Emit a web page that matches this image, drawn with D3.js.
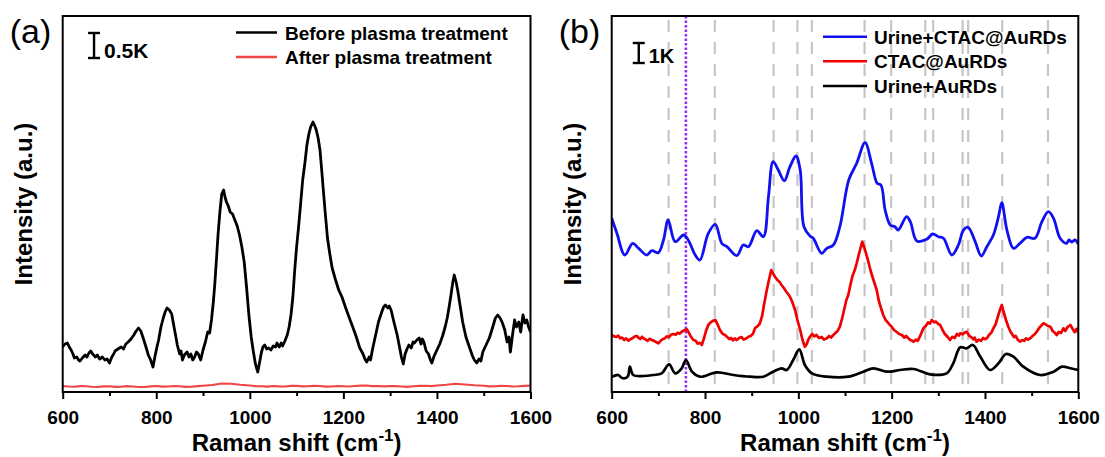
<!DOCTYPE html>
<html>
<head>
<meta charset="utf-8">
<script src="https://cdn.jsdelivr.net/npm/d3@7"></script>
<style>
  body { margin: 0; background: #fff; }
  svg text { font-family: "Liberation Sans", Arial, sans-serif; }
</style>
</head>
<body>
<div id="chart"></div>
<script>
// Panel (a): intensity (counts) vs Raman shift (cm-1)
const beforePlasma = [
  [600, 900], [605, 960], [610, 980], [614, 900], [618, 840], [622, 760], [625, 680], [630, 700],
  [634, 640], [637, 620], [642, 680], [648, 740], [652, 700], [656, 780], [660, 820], [664, 760],
  [670, 700], [674, 740], [679, 660], [685, 700], [690, 640], [695, 660], [700, 580], [705, 700],
  [709, 760], [712, 820], [718, 860], [725, 900], [730, 860], [735, 960], [740, 1000], [746, 1060],
  [752, 1140], [757, 1220], [762, 1280], [767, 1220], [772, 1080], [778, 900], [783, 740],
  [788, 640], [793, 500], [797, 700], [801, 880], [805, 1040], [810, 1300], [815, 1480],
  [819, 1600], [823, 1680], [828, 1640], [833, 1560], [838, 1300], [842, 1100], [845, 940],
  [850, 760], [853, 820], [856, 640], [860, 740], [866, 800], [870, 700], [874, 760], [878, 640],
  [882, 700], [886, 800], [890, 760], [895, 640], [900, 840], [905, 1000], [910, 1200],
  [914, 1180], [918, 1440], [922, 1800], [925, 2140], [929, 2700], [932, 3140], [936, 3600],
  [940, 3960], [944, 4040], [947, 3900], [950, 3800], [954, 3720], [958, 3600], [963, 3560],
  [968, 3440], [973, 3320], [978, 3140], [983, 2900], [988, 2600], [993, 2100], [998, 1540],
  [1003, 1100], [1007, 840], [1012, 560], [1017, 400], [1021, 600], [1025, 800], [1028, 900],
  [1032, 940], [1036, 860], [1040, 880], [1045, 840], [1050, 920], [1055, 900], [1058, 980],
  [1063, 900], [1067, 980], [1070, 920], [1075, 1020], [1080, 1140], [1084, 1300], [1088, 1540],
  [1092, 1900], [1096, 2440], [1100, 2900], [1104, 3280], [1108, 3700], [1113, 4240],
  [1118, 4600], [1122, 4940], [1126, 5150], [1130, 5300], [1135, 5400], [1139, 5320],
  [1142, 5240], [1146, 5080], [1150, 4840], [1154, 4400], [1158, 3940], [1162, 3500],
  [1166, 3080], [1171, 2760], [1176, 2480], [1183, 2250], [1190, 2040], [1197, 1900],
  [1205, 1680], [1212, 1500], [1220, 1300], [1227, 1120], [1235, 880], [1242, 760], [1246, 660],
  [1250, 600], [1255, 700], [1258, 640], [1262, 840], [1268, 1100], [1275, 1400], [1282, 1600],
  [1286, 1700], [1290, 1740], [1295, 1680], [1298, 1720], [1302, 1640], [1308, 1400],
  [1315, 1140], [1320, 900], [1324, 700], [1328, 560], [1332, 760], [1336, 860], [1340, 940],
  [1345, 880], [1349, 1000], [1352, 980], [1357, 1040], [1362, 1080], [1366, 960], [1369, 1060],
  [1372, 1000], [1377, 820], [1382, 760], [1386, 640], [1389, 580], [1394, 720], [1400, 840],
  [1406, 960], [1412, 1120], [1417, 1280], [1422, 1480], [1426, 1700], [1430, 1940],
  [1434, 2200], [1437, 2340], [1441, 2200], [1445, 2000], [1450, 1700], [1455, 1400],
  [1462, 1100], [1470, 880], [1476, 720], [1480, 640], [1485, 580], [1490, 660], [1494, 620],
  [1498, 800], [1505, 940], [1512, 1080], [1518, 1260], [1525, 1480], [1530, 1540], [1535, 1480],
  [1540, 1380], [1545, 1240], [1550, 1000], [1554, 1100], [1557, 800], [1561, 1100], [1566, 1440],
  [1570, 1300], [1575, 1400], [1579, 1200], [1584, 1540], [1588, 1380], [1592, 1440],
  [1596, 1300], [1600, 1200]
]
const afterPlasma = [
  [600, 120], [612, 110], [625, 105], [637, 118], [650, 115], [662, 105], [675, 100], [688, 112],
  [700, 115], [712, 102], [725, 105], [737, 118], [750, 110], [762, 100], [775, 100], [788, 114],
  [800, 120], [812, 106], [825, 110], [837, 120], [850, 115], [862, 102], [875, 105], [888, 118],
  [900, 125], [920, 140], [940, 170], [960, 165], [980, 145], [1000, 130], [1012, 118],
  [1025, 115], [1037, 108], [1050, 120], [1062, 112], [1075, 110], [1088, 122], [1100, 125],
  [1112, 112], [1125, 115], [1137, 124], [1150, 120], [1162, 108], [1175, 110], [1188, 120],
  [1200, 115], [1212, 110], [1225, 120], [1237, 128], [1250, 130], [1262, 118], [1275, 120],
  [1288, 112], [1300, 120], [1312, 116], [1325, 110], [1337, 104], [1350, 115], [1362, 122],
  [1375, 125], [1388, 118], [1400, 130], [1420, 145], [1440, 165], [1460, 150], [1480, 135],
  [1500, 125], [1512, 112], [1525, 115], [1537, 124], [1550, 120], [1562, 110], [1575, 115],
  [1588, 124], [1600, 130]
]

// Panel (b)
const urineCtac = [
  [600, 8685], [611, 7950], [628, 6850], [645, 7435], [657, 7200], [675, 6850], [686, 7065],
  [700, 6965], [711, 7600], [721, 8600], [736, 7515], [754, 7850], [764, 7600], [779, 6850],
  [789, 6600], [807, 7935], [822, 8385], [836, 7435], [847, 7265], [868, 6815], [882, 7350],
  [893, 7265], [911, 8065], [925, 7765], [936, 9765], [946, 11515], [957, 11100], [970, 10565],
  [982, 11265], [995, 11800], [1004, 11100], [1012, 8265], [1025, 7800], [1032, 7685],
  [1050, 6935], [1061, 7185], [1075, 7350], [1089, 8265], [1108, 10600], [1125, 11435],
  [1143, 12465], [1157, 11435], [1169, 10435], [1177, 10350], [1186, 9100], [1197, 8350],
  [1207, 8265], [1214, 8100], [1232, 8765], [1240, 8515], [1254, 7550], [1275, 7635],
  [1288, 7900], [1300, 7765], [1311, 7685], [1329, 6850], [1343, 7350], [1354, 8100],
  [1364, 8235], [1379, 7515], [1392, 6800], [1404, 7265], [1418, 7850], [1429, 8765],
  [1436, 9465], [1447, 8100], [1461, 7185], [1475, 7435], [1490, 7735], [1507, 7685],
  [1522, 8515], [1536, 9015], [1547, 8685], [1561, 7685], [1575, 7435], [1580, 7600],
  [1586, 7500], [1593, 7600], [1600, 7400]
]
const ctac = [
  [600, 2850], [605, 2780], [610, 2750], [614, 2820], [618, 2685], [622, 2720], [627, 2600],
  [631, 2680], [636, 2565], [640, 2640], [645, 2700], [650, 2780], [654, 2800], [658, 2700],
  [661, 2650], [665, 2760], [668, 2685], [673, 2620], [677, 2560], [681, 2660], [686, 2600],
  [690, 2560], [695, 2500], [700, 2435], [705, 2560], [709, 2640], [714, 2685], [718, 2780],
  [723, 2740], [727, 2860], [732, 2900], [737, 2860], [741, 2960], [746, 2920], [750, 3015],
  [755, 3080], [761, 3135], [765, 2980], [770, 2760], [775, 2600], [780, 2560], [784, 2420],
  [789, 2460], [793, 2350], [798, 2700], [802, 3050], [807, 3350], [812, 3480], [817, 3560],
  [822, 3600], [827, 3380], [832, 3100], [837, 2920], [842, 2860], [847, 2765], [852, 2640],
  [856, 2700], [860, 2580], [864, 2680], [868, 2600], [873, 2700], [878, 2750], [883, 2620],
  [889, 2685], [893, 2760], [898, 2800], [903, 2920], [907, 3185], [912, 3280], [917, 3400],
  [922, 3765], [926, 4300], [931, 4935], [936, 5500], [942, 6100], [946, 5920], [950, 5765],
  [955, 5600], [959, 5520], [964, 5350], [969, 5200], [973, 5050], [978, 4900], [982, 4765],
  [987, 4500], [993, 4100], [998, 3600], [1004, 3100], [1009, 2600], [1014, 2265], [1018, 2400],
  [1021, 2600], [1025, 2765], [1030, 2900], [1034, 2780], [1039, 2850], [1044, 2700],
  [1050, 2750], [1055, 2620], [1061, 2685], [1066, 2800], [1070, 2720], [1075, 2850],
  [1079, 2935], [1084, 3050], [1089, 3265], [1094, 3700], [1099, 4200], [1103, 4600],
  [1107, 4850], [1112, 5400], [1116, 5800], [1121, 6100], [1125, 6435], [1131, 7000],
  [1137, 7515], [1143, 7100], [1150, 6515], [1155, 6050], [1161, 5600], [1168, 5100],
  [1172, 4600], [1177, 4200], [1182, 3850], [1187, 3600], [1191, 3500], [1195, 3380],
  [1200, 3265], [1205, 3100], [1211, 3000], [1216, 2900], [1222, 2850], [1227, 2720],
  [1231, 2800], [1235, 2700], [1240, 2600], [1244, 2560], [1247, 2515], [1252, 2620],
  [1256, 2560], [1261, 2800], [1268, 3185], [1273, 3300], [1278, 3480], [1282, 3420],
  [1286, 3600], [1291, 3480], [1295, 3520], [1300, 3400], [1304, 3350], [1309, 3100],
  [1314, 2900], [1320, 2750], [1325, 2600], [1330, 2760], [1335, 2700], [1340, 2900],
  [1344, 2820], [1347, 2935], [1352, 2880], [1356, 2960], [1361, 3015], [1366, 2820],
  [1370, 2750], [1375, 2640], [1378, 2720], [1382, 2515], [1387, 2620], [1392, 2560],
  [1396, 2700], [1400, 2640], [1404, 2685], [1409, 2860], [1414, 2980], [1418, 3185],
  [1423, 3400], [1428, 3800], [1432, 4100], [1436, 4350], [1440, 4000], [1445, 3600],
  [1450, 3265], [1455, 3000], [1458, 2900], [1462, 2750], [1466, 2800], [1470, 2620],
  [1475, 2515], [1480, 2600], [1484, 2560], [1488, 2680], [1492, 2620], [1497, 2685],
  [1502, 2800], [1507, 2900], [1511, 3015], [1516, 3200], [1520, 3300], [1525, 3435],
  [1530, 3380], [1535, 3300], [1540, 3265], [1545, 3050], [1550, 2950], [1554, 2850],
  [1558, 3000], [1563, 2950], [1568, 3185], [1572, 3050], [1577, 3250], [1583, 3350],
  [1588, 3150], [1592, 3000], [1596, 3150], [1600, 2935]
]
const urineAu = [
  [600, 765], [607, 820], [614, 850], [621, 720], [628, 685], [635, 800], [639, 1265],
  [646, 850], [668, 800], [689, 850], [707, 935], [723, 1385], [736, 935], [750, 1185],
  [759, 1600], [772, 1015], [789, 765], [825, 985], [861, 850], [896, 765], [925, 765],
  [946, 1015], [964, 1185], [975, 1100], [989, 1600], [1002, 2135], [1014, 1350],
  [1029, 935], [1061, 765], [1107, 765], [1139, 1015], [1161, 1185], [1190, 1015],
  [1218, 1100], [1247, 1150], [1282, 885], [1318, 935], [1332, 1435], [1347, 2235],
  [1361, 2185], [1374, 2350], [1390, 1765], [1411, 1100], [1429, 1435], [1445, 1900],
  [1461, 1765], [1482, 1265], [1518, 850], [1547, 1015], [1565, 1265], [1583, 1185],
  [1600, 1100]
]

const bandLines = [722, 821, 947, 998, 1029, 1142, 1199, 1272, 1289, 1352, 1364, 1437, 1535]
const markerLine = 759

const xTicks = [600, 800, 1000, 1200, 1400, 1600]
const xMinorTicks = [700, 900, 1100, 1300, 1500]

const width = 1105
const height = 457
const plotTop = 16
const plotBottom = 392

const svg = d3
  .select('#chart')
  .append('svg')
  .attr('width', width)
  .attr('height', height)

function makePanel(opts) {
  const g = svg.append('g')

  const x = d3.scaleLinear().domain([600, 1600]).range([opts.left, opts.right])
  const y = d3.scaleLinear().domain([0, opts.yMax]).range([plotBottom, plotTop])

  const clip = g.append('clipPath').attr('id', 'clip-' + opts.id)
  clip.append('rect')
    .attr('x', opts.left).attr('y', plotTop)
    .attr('width', opts.right - opts.left).attr('height', plotBottom - plotTop)

  const plot = g.append('g').attr('clip-path', 'url(#clip-' + opts.id + ')')

  // major / minor ticks
  const major = d3.axisBottom(x).tickValues(xTicks).tickSize(7).tickPadding(12)
    .tickFormat(d3.format('d'))
  const minor = d3.axisBottom(x).tickValues(xMinorTicks).tickSize(4).tickFormat('')

  g.append('g').attr('transform', 'translate(0,' + plotBottom + ')').call(minor)
    .call(a => a.select('.domain').remove())
    .selectAll('line').attr('stroke-width', 2)
  const ax = g.append('g').attr('transform', 'translate(0,' + plotBottom + ')').call(major)
  ax.select('.domain').remove()
  ax.selectAll('line').attr('stroke-width', 2)
  ax.selectAll('text')
    .attr('font-size', 19)
    .attr('font-weight', 'bold')
    .attr('fill', '#000')
    .attr('font-family', '"Liberation Sans", Arial, sans-serif')

  // axis titles
  const xt = g.append('text')
    .attr('x', (opts.left + opts.right) / 2)
    .attr('y', 451)
    .attr('text-anchor', 'middle')
    .attr('font-size', 24)
    .attr('font-weight', 'bold')
  xt.append('tspan').text('Raman shift (cm')
  xt.append('tspan').attr('dy', -10).attr('font-size', 17).text('-1')
  xt.append('tspan').attr('dy', 10).text(')')

  g.append('text')
    .attr('transform', 'translate(' + (opts.left - 31) + ',' + (plotTop + plotBottom) / 2 + ') rotate(-90)')
    .attr('text-anchor', 'middle')
    .attr('font-size', 24)
    .attr('font-weight', 'bold')
    .text('Intensity (a.u.)')

  // panel label
  g.append('text')
    .attr('x', opts.left - 53)
    .attr('y', 43)
    .attr('font-size', 34)
    .text(opts.label)

  // scale bar
  const sb = g.append('g').attr('stroke', '#000').attr('stroke-width', 2.4)
  const sbx = x(opts.barAt)
  const y0 = opts.barTop
  const y1 = opts.barTop + (y(0) - y(opts.barValue))
  sb.append('line').attr('x1', sbx).attr('x2', sbx).attr('y1', y0).attr('y2', y1)
  sb.append('line').attr('x1', sbx - 6).attr('x2', sbx + 6).attr('y1', y0).attr('y2', y0)
  sb.append('line').attr('x1', sbx - 6).attr('x2', sbx + 6).attr('y1', y1).attr('y2', y1)
  g.append('text')
    .attr('x', sbx + 10)
    .attr('y', y1)
    .attr('font-size', opts.barFont)
    .attr('font-weight', 'bold')
    .text(opts.barText)

  return { g, plot, x, y }
}

function drawFrame(p, opts) {
  p.g.append('rect')
    .attr('x', opts.left).attr('y', plotTop)
    .attr('width', opts.right - opts.left).attr('height', plotBottom - plotTop)
    .attr('fill', 'none')
    .attr('stroke', '#000')
    .attr('stroke-width', 2)
}

function drawLegend(p, items, lx, ly, gap) {
  items.forEach((d, i) => {
    const cy = ly + i * gap
    p.g.append('line')
      .attr('x1', lx).attr('x2', lx + d.len)
      .attr('y1', cy).attr('y2', cy)
      .attr('stroke', d.color).attr('stroke-width', 2.5)
    p.g.append('text')
      .attr('x', lx + d.len + d.pad)
      .attr('y', cy + 7)
      .attr('font-size', 19)
      .attr('font-weight', 'bold')
      .text(d.name)
  })
}

// ---- panel (a)
const optsA = {
  id: 'a', left: 62.7, right: 530.5, yMax: 7520, label: '(a)',
  barAt: 667, barTop: 33, barValue: 500, barText: '0.5K', barFont: 21
}
const pa = makePanel(optsA)
const lineA = d3.line().x(d => pa.x(d[0])).y(d => pa.y(d[1]))

pa.plot.append('path').datum(afterPlasma)
  .attr('d', lineA).attr('fill', 'none')
  .attr('stroke', '#f04545').attr('stroke-width', 2.2)
pa.plot.append('path').datum(beforePlasma)
  .attr('d', lineA).attr('fill', 'none')
  .attr('stroke', '#000').attr('stroke-width', 2.8).attr('stroke-linejoin', 'round')

drawFrame(pa, optsA)
drawLegend(pa, [
  { name: 'Before plasma treatment', color: '#000', len: 41, pad: 8 },
  { name: 'After plasma treatment', color: '#f04545', len: 41, pad: 8 }
], 236, 32.5, 24.5)

// ---- panel (b)
const optsB = {
  id: 'b', left: 611.7, right: 1078.3, yMax: 18800, label: '(b)',
  barAt: 658, barTop: 43, barValue: 1000, barText: '1K', barFont: 20
}
const pb = makePanel(optsB)
const lineB = d3.line().curve(d3.curveCatmullRom.alpha(0.5))
  .x(d => pb.x(d[0])).y(d => pb.y(d[1]))
const lineBraw = d3.line().x(d => pb.x(d[0])).y(d => pb.y(d[1]))

pb.plot.selectAll('.band')
  .data(bandLines)
  .enter()
  .append('line')
  .attr('class', 'band')
  .attr('x1', d => pb.x(d)).attr('x2', d => pb.x(d))
  .attr('y1', plotTop).attr('y2', plotBottom)
  .attr('stroke', '#c6c6c6')
  .attr('stroke-width', 2.2)
  .attr('stroke-dasharray', '12,10')
  .attr('stroke-dashoffset', -4)

pb.plot.append('line')
  .attr('x1', pb.x(markerLine)).attr('x2', pb.x(markerLine))
  .attr('y1', plotTop).attr('y2', plotBottom)
  .attr('stroke', '#9a2ef0')
  .attr('stroke-width', 2.6)
  .attr('stroke-dasharray', '2.5,2')

pb.plot.append('path').datum(urineAu)
  .attr('d', lineB).attr('fill', 'none')
  .attr('stroke', '#000').attr('stroke-width', 2.7)
pb.plot.append('path').datum(ctac)
  .attr('d', lineBraw).attr('fill', 'none')
  .attr('stroke', '#f00000').attr('stroke-width', 2.7).attr('stroke-linejoin', 'round')
pb.plot.append('path').datum(urineCtac)
  .attr('d', lineB).attr('fill', 'none')
  .attr('stroke', '#1010f0').attr('stroke-width', 2.8)

drawFrame(pb, optsB)
drawLegend(pb, [
  { name: 'Urine+CTAC@AuRDs', color: '#1010f0', len: 44, pad: 7 },
  { name: 'CTAC@AuRDs', color: '#f00000', len: 44, pad: 7 },
  { name: 'Urine+AuRDs', color: '#000', len: 44, pad: 7 }
], 823, 36.7, 24.6)
</script>
</body>
</html>
